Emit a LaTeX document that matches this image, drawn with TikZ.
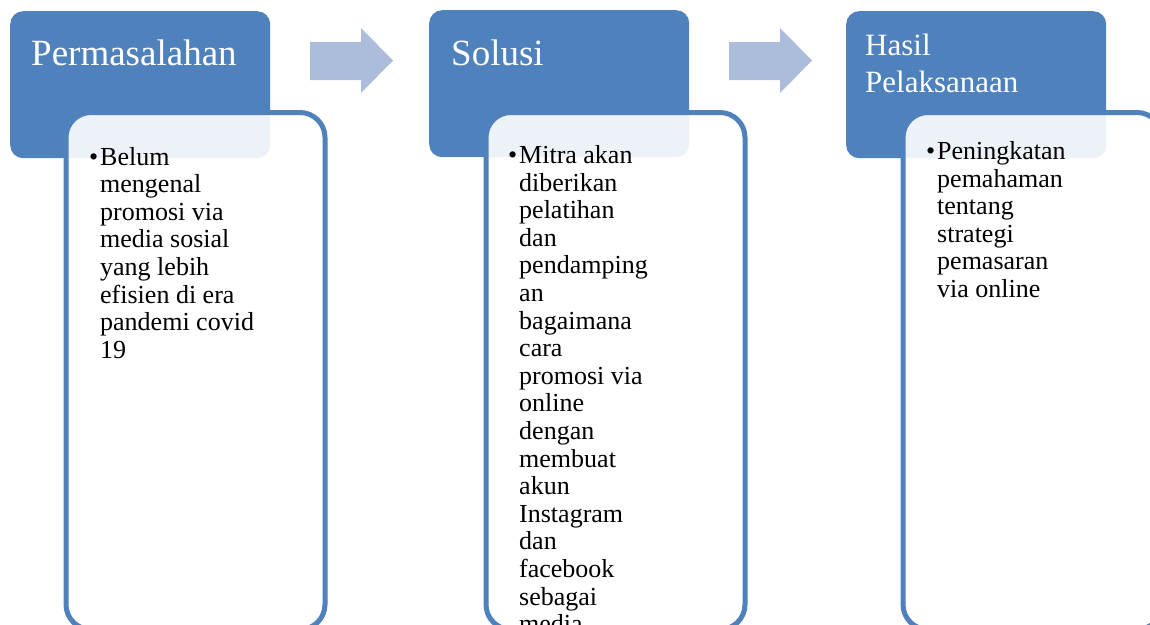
\documentclass[tikz,border=0pt]{standalone}
\usepackage{fontspec}
\setmainfont{Liberation Serif}
\definecolor{hdrblue}{RGB}{79,129,189}
\definecolor{arrblue}{RGB}{172,189,220}
\begin{document}
\begin{tikzpicture}[x=1pt,y=-1pt,
  hdr/.style={rectangle, fill=hdrblue, rounded corners=13pt, anchor=north west, minimum width=260pt, minimum height=147pt, inner sep=0},
  bodybox/.style={rectangle, draw=hdrblue, line width=5pt, fill=white, fill opacity=0.9, rounded corners=25pt, anchor=north west, minimum width=259pt, minimum height=517pt, inner sep=0},
  htext/.style={text=white, inner sep=0, anchor=base west, font=\fontsize{37}{44}\selectfont},
  htextsmall/.style={text=white, inner sep=0, anchor=base west, font=\fontsize{31}{37}\selectfont},
  btext/.style={text=black, inner sep=0, anchor=base west, font=\fontsize{26}{27.6}\selectfont},
  arrowshape/.style={fill=arrblue}
]
\clip (0,0) rectangle (1150,624);
% headers
\node[hdr] (h1) at (10,11) {};
\node[hdr] (h2) at (429,10) {};
\node[hdr] (h3) at (846,11) {};
% bodies
\node[bodybox] (b1) at (63.5,110) {};
\node[bodybox] (b2) at (483.5,110) {};
\node[bodybox] (b3) at (900.5,110) {};
% arrows
\fill[arrowshape] (310,42) -- (361,42) -- (361,28) -- (393,60.5) -- (361,93) -- (361,80) -- (310,80) -- cycle;
\fill[arrowshape] (729,42) -- (780,42) -- (780,28) -- (812,60.5) -- (780,93) -- (780,80) -- (729,80) -- cycle;
% header texts
\node[htext] (t1) at (31,65) {Permasalahan};
\node[htext] (t2) at (451,65) {Solusi};
\node[htextsmall] (t3) at (865,55) {\parbox[t]{240pt}{Hasil\\Pelaksanaan}};
% body texts
\node[btext] (x1) at (100,165) {\parbox[t]{200pt}{\leavevmode\llap{•\hspace{2pt}}Belum\\mengenal\\promosi via\\media sosial\\yang lebih\\efisien di era\\pandemi covid\\19}};
\node[btext] (x2) at (519,163.5) {\parbox[t]{200pt}{\leavevmode\llap{•\hspace{2pt}}Mitra akan\\diberikan\\pelatihan\\dan\\pendamping\\an\\bagaimana\\cara\\promosi via\\online\\dengan\\membuat\\akun\\Instagram\\dan\\facebook\\sebagai\\media}};
\node[btext] (x3) at (937,159.5) {\parbox[t]{200pt}{\leavevmode\llap{•\hspace{2pt}}Peningkatan\\pemahaman\\tentang\\strategi\\pemasaran\\via online}};
\end{tikzpicture}
\end{document}
